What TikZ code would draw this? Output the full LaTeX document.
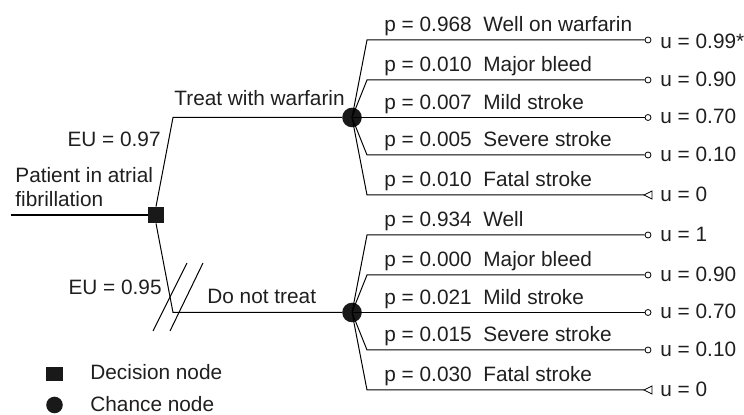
\documentclass[tikz,border=0pt]{standalone}
\usepackage{fontspec}
\setmainfont{Liberation Sans}
\begin{document}
\begin{tikzpicture}[x=0.5pt,y=-0.5pt,
  line/.style={line width=0.5pt, draw=black},
  txt/.style={font=\fontsize{10.4}{11.5}\selectfont, text=black!88, inner sep=0pt},
  decision/.style={rectangle, fill=black!90, minimum size=8pt, inner sep=0pt},
  chance/.style={circle, fill=black!90, minimum size=9.8pt, inner sep=0pt},
  term/.style={circle, draw=black, line width=0.4pt, fill=white, minimum size=3pt, inner sep=0pt}]
\useasboundingbox (0,0) rectangle (744,415);

% decision node and main branches
\coordinate (start) at (11,215);
\node[decision] (D) at (156,215) {};
\coordinate (ub) at (173,117.5);
\coordinate (lb) at (173,312.5);
\node[chance] (C1) at (352,117.5) {};
\node[chance] (C2) at (352,312.5) {};
\draw[line, line width=0.65pt] (start) -- (D.west);
\draw[line] (D.north) -- (ub) -- (C1);
\draw[line] (D.south) -- (lb) -- (C2);

% slashes on the rejected branch
\coordinate (s1a) at (187,263); \coordinate (s1b) at (153,331);
\coordinate (s2a) at (203,263); \coordinate (s2b) at (170,331);
\draw[line] (s1a) -- (s1b);
\draw[line] (s2a) -- (s2b);

% left labels
\node[txt, anchor=base east] (eu1) at (161,147) {EU = 0.97};
\node[txt, anchor=base west] (pat1) at (15,183) {Patient in atrial};
\node[txt, anchor=base west] (pat2) at (15,207) {fibrillation};
\node[txt, anchor=base east] (eu2) at (162,295) {EU = 0.95};
\node[txt, anchor=base west] (tw) at (174,106) {Treat with warfarin};
\node[txt, anchor=base west] (dnt) at (207,304) {Do not treat};

% upper chance outcomes
\foreach \y/\p/\n/\u/\o [count=\i] in {40/0.968/Well on warfarin/0.99*/9, 80/0.010/Major bleed/0.90/6.5, 117.5/0.007/Mild stroke/0.70/6.5, 155/0.005/Severe stroke/0.10/6.5} {
  \coordinate (a\i) at (367,\y);
  \node[term] (ta\i) at (648,\y) {};
  \draw[line] (C1.center) -- (a\i) -- (ta\i);
  \node[txt, anchor=base west] (pa\i) at (384,{\y-8}) {p = \p};
  \node[txt, anchor=base west] (na\i) at (483,{\y-8}) {\n};
  \node[txt, anchor=base west] (ua\i) at (660,{\y+\o}) {u = \u};
}
\coordinate (a5) at (367,195);
\coordinate (fa) at (644,195);
\draw[line] (C1.center) -- (a5) -- (fa);
\draw[line, line width=0.4pt, fill=white] (fa) -- ++(8,-4) -- ++(0,8) -- cycle;
\node[txt, anchor=base west] (pa5) at (384,187) {p = 0.010};
\node[txt, anchor=base west] (na5) at (483,187) {Fatal stroke};
\node[txt, anchor=base west] (ua5) at (660,201.5) {u = 0};

% lower chance outcomes
\foreach \y/\p/\n/\u [count=\i] in {235/0.934/Well/1, 275/0.000/Major bleed/0.90, 312.5/0.021/Mild stroke/0.70, 350/0.015/Severe stroke/0.10} {
  \coordinate (b\i) at (367,\y);
  \node[term] (tb\i) at (648,\y) {};
  \draw[line] (C2.center) -- (b\i) -- (tb\i);
  \node[txt, anchor=base west] (pb\i) at (384,{\y-8}) {p = \p};
  \node[txt, anchor=base west] (nb\i) at (483,{\y-8}) {\n};
  \node[txt, anchor=base west] (ub\i) at (660,{\y+6.5}) {u = \u};
}
\coordinate (b5) at (367,390);
\coordinate (fb) at (644,390);
\draw[line] (C2.center) -- (b5) -- (fb);
\draw[line, line width=0.4pt, fill=white] (fb) -- ++(8,-4) -- ++(0,8) -- cycle;
\node[txt, anchor=base west] (pb5) at (384,382) {p = 0.030};
\node[txt, anchor=base west] (nb5) at (483,382) {Fatal stroke};
\node[txt, anchor=base west] (ub5) at (660,396.5) {u = 0};

% legend
\node[rectangle, fill=black!90, minimum width=8.3pt, minimum height=7pt, inner sep=0pt] (ld) at (54.5,374.5) {};
\node[txt, anchor=base west] (ldt) at (90,380) {Decision node};
\node[chance, minimum size=8.3pt] (lc) at (54.5,405) {};
\node[txt, anchor=base west] (lct) at (90,412) {Chance node};
\end{tikzpicture}
\end{document}
